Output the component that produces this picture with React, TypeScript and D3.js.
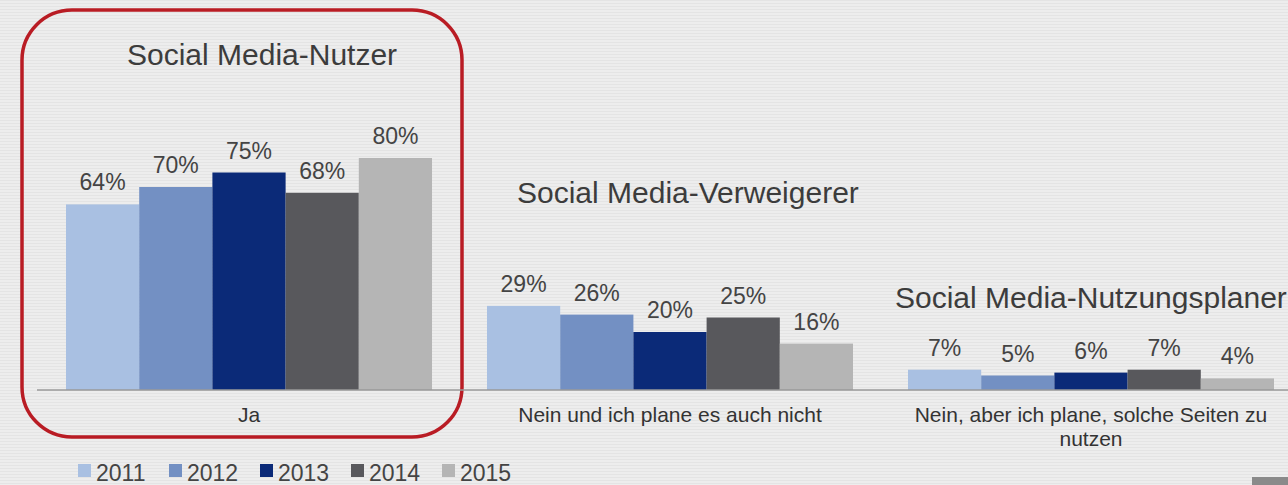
import { scaleBand, scaleLinear } from "d3";
import { useEffect } from "react";

const W = 1288;
const H = 485;

const years = ["2011", "2012", "2013", "2014", "2015"];
const categories = ["Ja", "Nein und ich plane es auch nicht", "Nein, aber ich plane, solche Seiten zu nutzen"];
const categoryLines = [["Ja"], ["Nein und ich plane es auch nicht"], ["Nein, aber ich plane, solche Seiten zu", "nutzen"]];
const groupTitles = ["Social Media-Nutzer", "Social Media-Verweigerer", "Social Media-Nutzungsplaner"];
const values = [
  [64, 70, 75, 68, 80],
  [29, 26, 20, 25, 16],
  [7, 5, 6, 7, 4],
];
const colors = ["#a9c0e2", "#7390c3", "#0b2a78", "#58585c", "#b5b5b5"];

// title placement relative to each group's band: [dx from band start, baseline y]
const titlePos = [
  [61, 65],
  [30, 203],
  [-13, 308],
];

const BASE = 390;

export default function App() {
  useEffect(() => {
    document.body.style.margin = "0";
  }, []);

  const x0 = scaleBand<string>().domain(categories).range([66, 1274]).paddingInner(0.1306).paddingOuter(0);
  const x1 = scaleBand<string>().domain(years).range([0, x0.bandwidth()]).padding(0);
  const y = scaleLinear().domain([0, 100]).range([BASE, 100]);

  const font = "'Liberation Sans', Arial, sans-serif";

  return (
    <svg width={W} height={H} viewBox={`0 0 ${W} ${H}`} style={{ display: "block", fontFamily: font }}>
      <defs>
        <pattern id="stripes" width={4} height={3} patternUnits="userSpaceOnUse">
          <rect width={4} height={3} fill="#ededed" />
          <rect width={4} height={1} fill="#e4e4e4" />
        </pattern>
      </defs>
      <rect width={W} height={H} fill="url(#stripes)" />

      {/* highlight frame round the first group */}
      <rect x={22} y={10} width={440} height={427} rx={50} ry={50} fill="none" stroke="#b91c24" strokeWidth={3.5} />

      {categories.map((c, gi) => (
        <g key={c} transform={`translate(${x0(c)},0)`}>
          {values[gi].map((v, i) => (
            <rect key={years[i]} x={x1(years[i])} y={y(v)} width={x1.bandwidth()} height={BASE - y(v)} fill={colors[i]} />
          ))}
          {values[gi].map((v, i) => (
            <text
              key={`l${years[i]}`}
              x={(x1(years[i]) ?? 0) + x1.bandwidth() / 2}
              y={y(v) - 14}
              textAnchor="middle"
              fontSize={23}
              fill="#444"
            >
              {v}%
            </text>
          ))}
          <text x={titlePos[gi][0]} y={titlePos[gi][1]} fontSize={30} fill="#3c3c3c">
            {groupTitles[gi]}
          </text>
          {categoryLines[gi].map((ln, li) => (
            <text key={ln} x={x0.bandwidth() / 2} y={422 + li * 24} textAnchor="middle" fontSize={21} fill="#333">
              {ln}
            </text>
          ))}
        </g>
      ))}

      <line x1={37} x2={W} y1={BASE} y2={BASE} stroke="#9a9a9a" strokeWidth={1.5} />

      {years.map((yr, i) => (
        <g key={yr} transform={`translate(${78 + i * 91},0)`}>
          <rect x={0} y={464} width={13} height={13} fill={colors[i]} />
          <text x={18} y={481} fontSize={23} fill="#444">
            {yr}
          </text>
        </g>
      ))}

      <rect x={1252} y={477} width={36} height={8} fill="#8a8a8a" />
    </svg>
  );
}
